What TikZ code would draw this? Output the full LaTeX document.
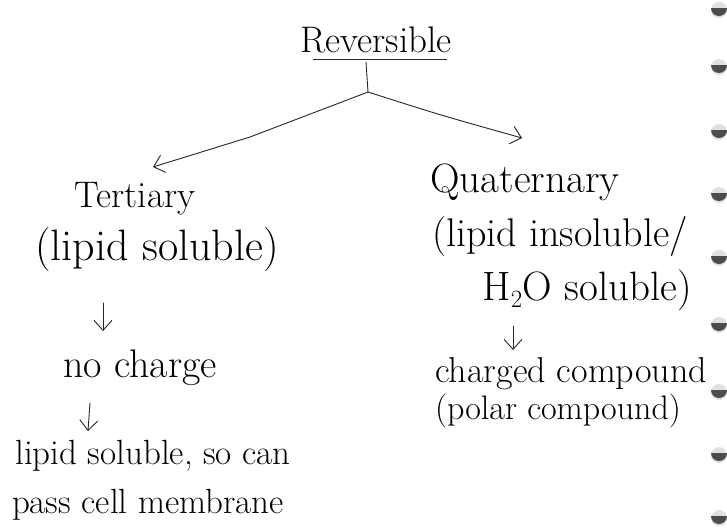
\documentclass[tikz,border=0pt]{standalone}
\usetikzlibrary{arrows.meta,calc}
\begin{document}
\begin{tikzpicture}[x=1pt,y=-1pt,
  txt/.style={font=\fontsize{#1}{#1}\selectfont, inner sep=0pt, anchor=center},
  ink/.style={line width=0.9pt, black!85, line cap=round},
  arr/.style={ink, -{Straight Barb[length=10pt,width=18pt,line width=0.9pt]}},
  holerim/.style={fill=black!12},
  holecap/.style={fill=black!70}]
\useasboundingbox (0,0) rectangle (727,528);

% heading and its underline
\node[txt=37] (rev) at (376,40) {Reversible};
\draw[ink] ($(rev.south west)+(13,6)$) -- ($(rev.south east)+(-5,6)$);
\coordinate (stem) at (366,62);
\coordinate (j) at (368,92);

% left branch
\node[txt=37] (ter) at (135,199) {Tertiary};
\node[txt=44] (terp) at (157,250) {(lipid soluble)};
\node[txt=40] (nochg) at (140,368) {no charge};
\node[txt=35] (lip1) at (153,456) {lipid soluble, so can};
\node[txt=35] (lip2) at (148,505) {pass cell membrane};

% right branch
\node[txt=41] (quat) at (525,182) {Quaternary};
\node[txt=40] (quatp1) at (560,237) {(lipid insoluble/};
\node[txt=41] (quatp2) at (587,290) {H$_2$O soluble)};
\node[txt=36] (chg1) at (571,374) {charged compound};
\node[txt=34] (chg2) at (558,411) {(polar compound)};

% connector end points
\coordinate (tl) at (153,167);
\coordinate (tr) at (522,138);
\coordinate (d1a) at (103,303); \coordinate (d1b) at (103,331);
\coordinate (d2a) at (90,403);  \coordinate (d2b) at (88,431);
\coordinate (d3a) at (513,326); \coordinate (d3b) at (513,350);

% connectors
\draw[ink] (stem) -- (j);
\draw[arr] (j) -- (250,137) -- (tl);
\draw[arr] (j) .. controls (440,115) .. (tr);
\draw[arr] (d1a) -- (d1b);
\draw[arr] (d2a) -- (d2b);
\draw[arr] (d3a) -- (d3b);

% binding holes along the right edge
\foreach \hy in {5,62,127,190,253,320,387,450,513}{
  \fill[holerim] (719,\hy+5) circle (8);
  \fill[holecap] (711,\hy+3) arc[start angle=180,end angle=0,radius=8] -- cycle;
}
\end{tikzpicture}
\end{document}
